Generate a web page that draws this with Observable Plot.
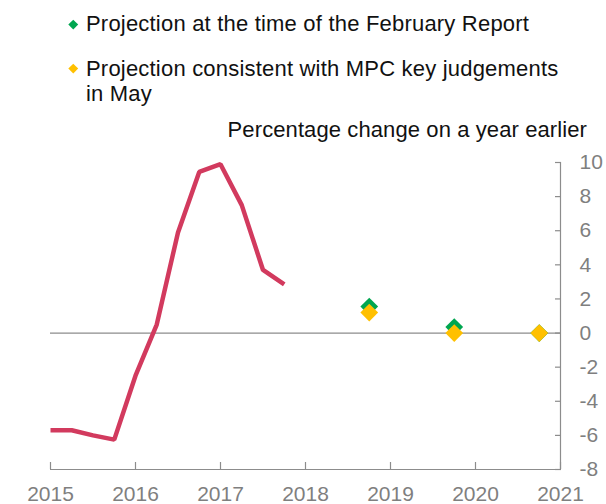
<!DOCTYPE html>
<html>
<head>
<meta charset="utf-8">
<script src="https://cdn.jsdelivr.net/npm/d3@7"></script>
<script src="https://cdn.jsdelivr.net/npm/@observablehq/plot@0.6"></script>
<style>
  html, body { margin: 0; padding: 0; background: #fff; }
  #wrap { position: relative; width: 606px; height: 504px; font-family: "Liberation Sans", Arial, sans-serif; }
  .leg { position: absolute; left: 86px; font-size: 22px; letter-spacing: 0.2px; line-height: 25px; color: #111; white-space: nowrap; }
  .mk { position: absolute; width: 6.5px; height: 6.5px; transform: rotate(45deg); }
  #unit { position: absolute; right: 19px; top: 118px; font-size: 22px; letter-spacing: 0.1px; line-height: 24px; color: #111; white-space: nowrap; }
  svg { display: block; }
</style>
</head>
<body>
<div id="wrap">
  <div id="chart"></div>
  <span class="mk" style="left:69.5px; top:21px; background:#00a650;"></span>
  <div class="leg" style="top:11px;">Projection at the time of the February Report</div>
  <span class="mk" style="left:69.5px; top:64.5px; background:#ffc000;"></span>
  <div class="leg" style="top:56px;">Projection consistent with MPC key judgements<br>in May</div>
  <div id="unit">Percentage change on a year earlier</div>
</div>
<script>
// Quarterly outturn (percentage change on a year earlier)
const quarters = [2015, 2015.25, 2015.5, 2015.75, 2016, 2016.25, 2016.5, 2016.75, 2017, 2017.25, 2017.5, 2017.75];
const outturn  = [-5.7, -5.7, -6.0, -6.25, -2.5, 0.5, 5.9, 9.45, 9.9, 7.5, 3.7, 2.85];

// Projections (Q4 of each year)
const projYears = [2018.75, 2019.75, 2020.75];
const febProjection = [1.55, 0.35, 0.0];
const mayProjection = [1.2, 0.0, 0.0];

const xTicks = [2015, 2016, 2017, 2018, 2019, 2020, 2021];
const yTicks = [-8, -6, -4, -2, 0, 2, 4, 6, 8, 10];

const W = 606, H = 504;
const mL = 50, mR = 46, mT = 162, mB = 35;

const lineData = quarters.map((q, i) => ({x: q, y: outturn[i]}));
const febData = projYears.map((q, i) => ({x: q, y: febProjection[i]}));
const mayData = projYears.map((q, i) => ({x: q, y: mayProjection[i]}));

const axisGrey = "#8c8c8c";
const textGrey = "#7f7f7f";

const chart = Plot.plot({
  width: W, height: H,
  marginLeft: mL, marginRight: mR, marginTop: mT, marginBottom: mB,
  style: {fontFamily: "'Liberation Sans', Arial, sans-serif", background: "white", overflow: "visible"},
  x: {domain: [2015, 2021], axis: null},
  y: {domain: [-8, 10], axis: null},
  marks: [
    // zero line and bottom axis line
    Plot.ruleY([0], {x1: 2015, x2: 2021, stroke: axisGrey, strokeWidth: 1.2}),
    Plot.ruleY([-8], {x1: 2015, x2: 2021, stroke: axisGrey, strokeWidth: 1.2}),
    // right axis line
    Plot.ruleX([2021], {y1: -8, y2: 10, stroke: axisGrey, strokeWidth: 1.2}),
    // x ticks (pointing up, inside)
    Plot.axisX({ticks: xTicks, tickSize: 7, dy: -7, tickFormat: () => "", label: null, stroke: axisGrey, strokeWidth: 1.2, strokeOpacity: 1}),
    // y ticks (pointing left, inside)
    Plot.axisY({anchor: "right", ticks: yTicks, tickSize: 6, dx: -6, tickFormat: () => "", label: null, stroke: axisGrey, strokeWidth: 1.2, strokeOpacity: 1}),
    Plot.axisX({ticks: xTicks, tickSize: 0, tickPadding: 17, tickFormat: d => String(d), fontSize: 21, color: textGrey, label: null}),
    Plot.axisY({anchor: "right", ticks: yTicks, tickSize: 0, tickPadding: 19, tickFormat: d => String(d), fontSize: 21, color: textGrey, textAnchor: "start", label: null}),
    Plot.line(lineData, {x: "x", y: "y", stroke: "#d23a5e", strokeWidth: 4.5, strokeLinejoin: "miter", strokeLinecap: "butt"}),
    Plot.dot(febData, {x: "x", y: "y", symbol: "diamond2", r: 8, fill: "#00a650", stroke: "none"}),
    Plot.dot(mayData, {x: "x", y: "y", symbol: "diamond2", r: 8, fill: "#ffc000", stroke: "none"})
  ]
});
document.getElementById("chart").appendChild(chart);
</script>
</body>
</html>
